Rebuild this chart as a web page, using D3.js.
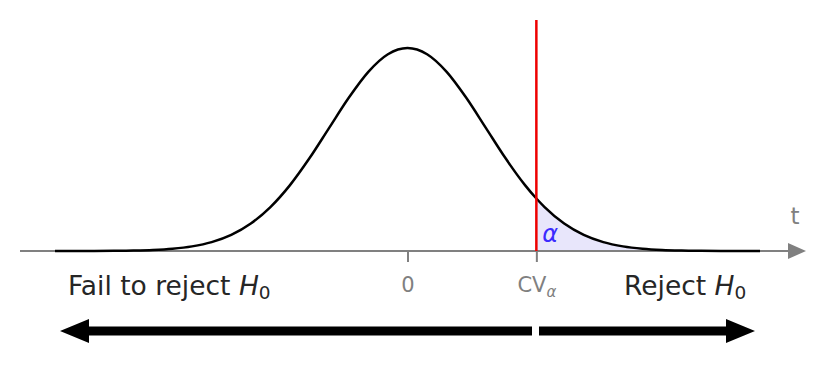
<!DOCTYPE html>
<html>
<head>
<meta charset="utf-8">
<script src="https://cdn.jsdelivr.net/npm/d3@7"></script>
<style>
  body { margin: 0; background: #fff; }
  svg { font-family: "DejaVu Sans", sans-serif; }
</style>
</head>
<body>
<svg id="chart" width="821" height="365"></svg>
<script>
// standard normal density, tabulated
var tValues = [-4.5, -4.25, -4, -3.75, -3.5, -3.25, -3, -2.75, -2.5, -2.25, -2, -1.75, -1.5, -1.25, -1, -0.75, -0.5, -0.25,
               0, 0.25, 0.5, 0.75, 1, 1.25, 1.5, 1.645, 1.75, 2, 2.25, 2.5, 2.75, 3, 3.25, 3.5, 3.75, 4, 4.25, 4.5];
var density = [0.0000, 0.0000, 0.0001, 0.0004, 0.0009, 0.0020, 0.0044, 0.0091, 0.0175, 0.0317, 0.0540, 0.0863, 0.1295, 0.1826, 0.2420, 0.3011, 0.3521, 0.3867,
               0.3989, 0.3867, 0.3521, 0.3011, 0.2420, 0.1826, 0.1295, 0.1031, 0.0863, 0.0540, 0.0317, 0.0175, 0.0091, 0.0044, 0.0020, 0.0009, 0.0004, 0.0001, 0.0000, 0.0000];
var tickValues = [0, 1.645];
var tickLabels = ["0", "CV"];
var critical = 1.645;

var svg = d3.select("#chart");
var axisY = 251;

var x = d3.scaleLinear().domain([-4.5, 4.5]).range([55, 760]);
var y = d3.scaleLinear().domain([0, 0.3989]).range([axisY, 48]);

var pts = tValues.map(function(t, i) { return [t, density[i]]; });
var tail = pts.filter(function(d) { return d[0] >= critical; });

// shaded rejection region
var area = d3.area()
    .x(function(d) { return x(d[0]); })
    .y0(y(0))
    .y1(function(d) { return y(d[1]); })
    .curve(d3.curveMonotoneX);
svg.append("path")
    .datum(tail)
    .attr("d", area)
    .attr("fill", "#e8e6fb");

// axis line + arrow head
var gray = "#808080";
svg.append("line")
    .attr("x1", 20).attr("x2", 790)
    .attr("y1", axisY).attr("y2", axisY)
    .attr("stroke", gray).attr("stroke-width", 2);
svg.append("path")
    .attr("d", "M788," + (axisY - 8) + "L806," + axisY + "L788," + (axisY + 8) + "Z")
    .attr("fill", gray);
svg.append("text")
    .attr("x", 795).attr("y", 224)
    .attr("text-anchor", "middle")
    .attr("fill", gray)
    .attr("font-size", 23)
    .text("t");

// ticks
var ax = svg.append("g")
    .attr("transform", "translate(0," + axisY + ")")
    .call(d3.axisBottom(x).tickValues(tickValues).tickSize(11)
        .tickFormat(function(d, i) { return tickLabels[i]; }));
ax.attr("font-size", 21).attr("font-family", "DejaVu Sans, sans-serif");
ax.select(".domain").remove();
ax.selectAll(".tick line").attr("stroke", gray).attr("stroke-width", 2);
ax.selectAll(".tick text")
    .attr("fill", gray)
    .attr("font-size", 21)
    .attr("y", 41)
    .attr("dy", null);
ax.selectAll(".tick text").filter(function(d, i) { return i === 1; })
    .append("tspan")
    .attr("dy", 5)
    .attr("font-size", 15)
    .attr("font-style", "italic")
    .text("α");

// curve
var line = d3.line()
    .x(function(d) { return x(d[0]); })
    .y(function(d) { return y(d[1]); })
    .curve(d3.curveMonotoneX);
svg.append("path")
    .datum(pts)
    .attr("d", line)
    .attr("fill", "none")
    .attr("stroke", "#000")
    .attr("stroke-width", 2.5);

// critical value line
svg.append("line")
    .attr("x1", x(critical)).attr("x2", x(critical))
    .attr("y1", 20).attr("y2", axisY)
    .attr("stroke", "#ee0000").attr("stroke-width", 2.5);

svg.append("text")
    .attr("x", x(critical) + 6).attr("y", 242)
    .attr("fill", "#3b2bff")
    .attr("font-size", 24)
    .attr("font-style", "italic")
    .text("α");

// region labels
function h0Label(txt, xPos) {
  var t = svg.append("text")
      .attr("x", xPos).attr("y", 295)
      .attr("fill", "#262626")
      .attr("font-size", 26.5);
  t.append("tspan").text(txt);
  t.append("tspan").attr("font-style", "italic").text("H");
  t.append("tspan").attr("dy", 4).attr("font-size", 18.5).text("0");
}
h0Label("Fail to reject ", 68);
h0Label("Reject ", 624);

// decision arrows
var arrowY = 331;
function arrow(from, to) {
  var dir = to > from ? 1 : -1;
  var headStart = to - dir * 29;
  svg.append("path")
    .attr("d", "M" + from + "," + (arrowY - 4.5) + "L" + headStart + "," + (arrowY - 4.5) +
               "L" + headStart + "," + (arrowY - 12) + "L" + to + "," + arrowY +
               "L" + headStart + "," + (arrowY + 12) + "L" + headStart + "," + (arrowY + 4.5) +
               "L" + from + "," + (arrowY + 4.5) + "Z")
    .attr("fill", "#000");
}
arrow(532, 60);
arrow(539, 755);
</script>
</body>
</html>
